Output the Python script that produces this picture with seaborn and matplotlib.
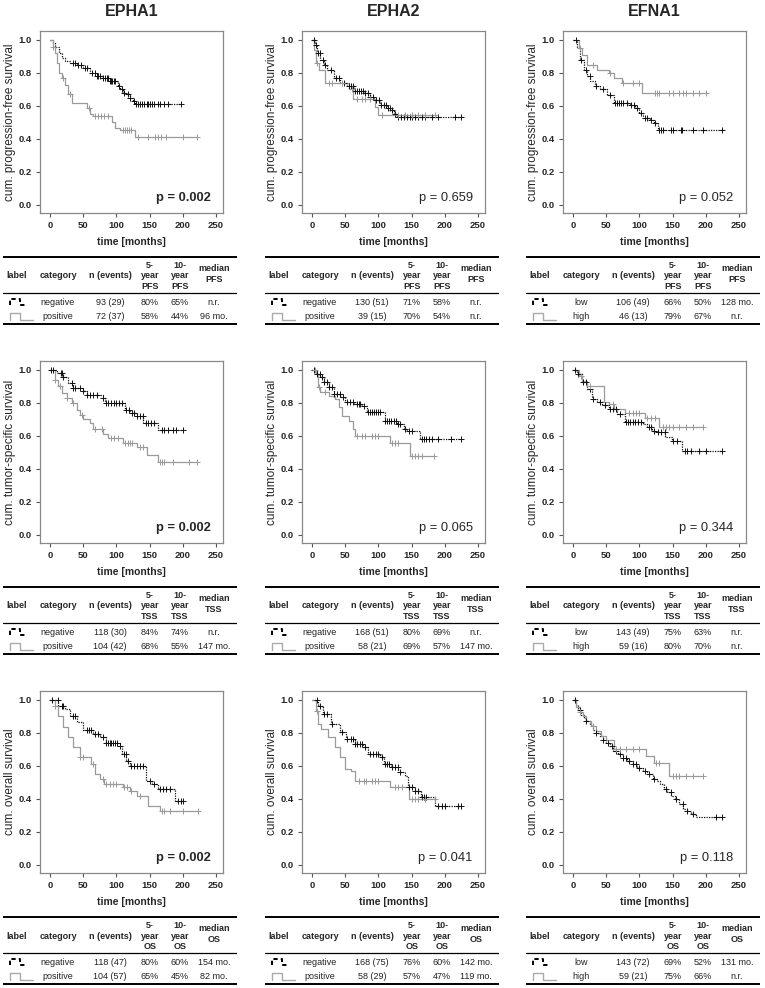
import numpy as np
import pandas as pd
import matplotlib
matplotlib.use('Agg')
import matplotlib.pyplot as plt
import seaborn as sns

sns.set_style('ticks')
plt.rcParams['font.family'] = ['Liberation Sans', 'DejaVu Sans']

genes = ['EPHA1', 'EPHA2', 'EFNA1']
endpoints = ['PFS', 'TSS', 'OS']
ylabels = ['cum. progression-free survival', 'cum. tumor-specific survival', 'cum. overall survival']
p_values = [['0.002', '0.659', '0.052'],
            ['0.002', '0.065', '0.344'],
            ['0.002', '0.041', '0.118']]
p_bold = [[True, False, False], [True, False, False], [True, False, False]]
groups = [['negative', 'positive'], ['negative', 'positive'], ['low', 'high']]

# ---- curves: step times, survival after step, censor times (last = end of follow-up)
# PFS
pfs_epha1_neg_t = [0, 4, 8, 14, 18, 22, 30, 40, 50, 60, 70, 80, 90, 103, 106, 110, 115, 120, 125, 128]
pfs_epha1_neg_s = [1.0, .98, .96, .92, .89, .87, .86, .85, .83, .80, .78, .77, .75, .72, .70, .68, .67, .65, .63, .615]
pfs_epha1_neg_c = [35, 38, 42, 46, 52, 56, 63, 67, 70, 73, 76, 80, 83, 86, 88, 90, 92, 94, 96, 98, 104, 109, 112,
                   117, 121, 127, 130, 133, 136, 139, 142, 146, 148, 150, 153, 157, 162, 166, 172, 178, 197]
pfs_epha1_pos_t = [0, 5, 8, 11, 14, 18, 23, 27, 33, 55, 60, 65, 93, 98, 105, 128]
pfs_epha1_pos_s = [1.0, .96, .92, .86, .80, .77, .73, .67, .62, .59, .55, .54, .50, .465, .455, .41]
pfs_epha1_pos_c = [5, 20, 30, 58, 68, 72, 77, 82, 87, 110, 113, 116, 119, 122, 133, 148, 158, 163, 167, 175, 200, 222]

pfs_epha2_neg_t = [0, 5, 7.5, 12.5, 17.6, 22.6, 32.6, 42.7, 52.7, 62.7, 77.8, 87.9, 92.9, 103, 113, 120.5, 123, 128]
pfs_epha2_neg_s = [1.0, .97, .92, .88, .85, .82, .77, .74, .72, .69, .677, .657, .636, .606, .586, .576, .55, .535]
pfs_epha2_neg_c = [3, 6, 9, 12, 16, 20, 28, 36, 40, 48, 55, 58, 62, 65, 68, 71, 74, 77, 80, 84, 88, 92, 97, 101,
                   104, 108, 111, 114, 117, 121, 125, 130, 134, 138, 143, 147, 150, 155, 160, 165, 170, 180, 190,
                   215, 225]
pfs_epha2_pos_t = [0, 3.5, 6.5, 10, 20, 55, 62, 95, 100]
pfs_epha2_pos_s = [1.0, .94, .86, .82, .74, .70, .64, .596, .545]
pfs_epha2_pos_c = [8, 25, 30, 45, 60, 68, 75, 80, 88, 105, 130, 140, 150, 160, 170, 185]

pfs_efna1_neg_t = [0, 6, 11, 16, 21, 26, 33.6, 41, 51, 61, 86, 94, 99, 106, 116.5, 121.5, 127.5]
pfs_efna1_neg_s = [1.0, .955, .88, .82, .78, .75, .72, .70, .667, .62, .606, .586, .556, .53, .515, .495, .455]
pfs_efna1_neg_c = [5, 12, 20, 25, 35, 45, 55, 63, 66, 69, 72, 75, 82, 88, 92, 97, 102, 108, 112, 118, 124, 130,
                   133, 136, 148, 150, 162, 164, 180, 195, 225]
pfs_efna1_pos_t = [0, 8.5, 13.5, 21, 36, 54, 62, 74, 104]
pfs_efna1_pos_s = [1.0, .95, .91, .85, .82, .80, .77, .74, .677]
pfs_efna1_pos_c = [10, 30, 55, 75, 90, 100, 123, 126, 130, 145, 150, 160, 165, 170, 180, 190, 200]

# TSS
tss_epha1_neg_t = [0, 10, 20, 27.6, 35, 50, 55, 80, 83, 113, 120, 130.5, 140.5, 163]
tss_epha1_neg_s = [1.0, .98, .96, .92, .89, .87, .85, .83, .80, .76, .74, .72, .68, .636]
tss_epha1_neg_c = [2, 5, 16, 18, 20, 33, 35, 37, 45, 50, 56, 60, 65, 70, 80, 84, 88, 92, 96, 100, 104, 108, 115,
                   119, 123, 127, 131, 135, 140, 144, 148, 152, 156, 168, 172, 178, 185, 190, 201]
tss_epha1_pos_t = [0, 7.5, 12.5, 17.6, 25, 32.6, 40, 45, 50, 60, 65, 80, 88, 110, 130.5, 145.6, 163]
tss_epha1_pos_s = [1.0, .94, .90, .86, .83, .80, .76, .73, .70, .68, .64, .61, .59, .56, .535, .485, .444]
tss_epha1_pos_c = [8, 15, 25, 35, 48, 68, 78, 92, 97, 102, 113, 117, 120, 124, 135, 140, 165, 168, 172, 185,
                   210, 221]

tss_epha2_neg_t = [0, 7.5, 12.5, 17.6, 25, 32.6, 42.7, 50, 62.7, 75, 82.8, 110, 128, 138, 143, 163]
tss_epha2_neg_s = [1.0, .976, .956, .925, .895, .855, .834, .804, .794, .784, .743, .69, .673, .642, .632, .58]
tss_epha2_neg_c = [3, 8, 12, 15, 18, 22, 26, 30, 33, 38, 42, 46, 52, 57, 62, 67, 70, 73, 78, 85, 88, 91, 94, 97,
                   100, 103, 110, 113, 116, 119, 123, 126, 130, 133, 140, 146, 150, 165, 168, 172, 176, 180, 190,
                   210, 225]
tss_epha2_pos_t = [0, 6.5, 8.5, 12.5, 25, 35, 40, 45, 55, 62, 65, 118, 147]
tss_epha2_pos_s = [1.0, .976, .895, .865, .845, .824, .774, .723, .693, .642, .602, .56, .48]
tss_epha2_pos_c = [5, 10, 20, 67, 75, 80, 90, 95, 100, 120, 125, 130, 150, 155, 160, 165, 183]

tss_efna1_neg_t = [0, 6, 13.5, 21, 28.6, 36, 43.7, 53.7, 66, 79, 106, 111, 119, 126.5, 139, 149, 164]
tss_efna1_neg_s = [1.0, .976, .925, .885, .824, .804, .788, .764, .733, .687, .673, .653, .632, .622, .592, .572, .511]
tss_efna1_neg_c = [3, 8, 15, 20, 25, 30, 40, 48, 55, 60, 64, 70, 80, 83, 86, 90, 94, 98, 102, 115, 118, 122, 128,
                   133, 138, 150, 156, 168, 172, 178, 190, 200, 225]
tss_efna1_pos_t = [0, 8.5, 13.5, 21, 46, 54, 61, 79, 109, 129]
tss_efna1_pos_s = [1.0, .966, .935, .905, .804, .794, .764, .737, .709, .657]
tss_efna1_pos_c = [12, 25, 60, 85, 90, 95, 100, 112, 118, 124, 135, 140, 145, 150, 160, 170, 180, 195]

# OS
os_epha1_neg_t = [0, 12.5, 22.6, 30, 40, 50, 65, 75, 85, 105, 108, 115, 120, 145, 154, 162, 188]
os_epha1_neg_s = [1.0, .966, .945, .905, .865, .818, .794, .774, .74, .72, .673, .632, .60, .511, .49, .46, .39]
os_epha1_neg_c = [3, 12, 18, 20, 35, 38, 55, 58, 62, 68, 72, 80, 85, 88, 90, 92, 95, 98, 101, 106, 111, 114, 117,
                  122, 126, 131, 135, 140, 150, 156, 165, 170, 175, 180, 193, 197, 201]
os_epha1_pos_t = [0, 7.5, 12.5, 20, 27.6, 35, 45, 62, 68, 76, 82, 110, 120, 130.5, 148, 165.6]
os_epha1_pos_s = [1.0, .966, .905, .834, .774, .713, .653, .612, .552, .521, .49, .47, .45, .42, .36, .325]
os_epha1_pos_c = [8, 45, 50, 64, 80, 85, 90, 95, 100, 112, 116, 122, 135, 168, 172, 180, 200, 223]

os_epha2_neg_t = [0, 9, 16.6, 29, 41.7, 51.7, 64, 77, 84, 102, 109, 119.5, 129.5, 139.5, 144.6, 154.6, 164.7, 184.7]
os_epha2_neg_s = [1.0, .966, .915, .855, .804, .764, .733, .713, .673, .653, .612, .592, .562, .541, .47, .45, .41, .36]
os_epha2_neg_c = [8, 12, 18, 22, 30, 45, 52, 58, 62, 65, 68, 72, 75, 80, 88, 92, 96, 100, 106, 110, 113, 116, 120,
                  125, 129, 133, 146, 150, 155, 160, 165, 168, 172, 190, 195, 200, 220, 225]
os_epha2_pos_t = [0, 6.5, 9, 14, 24, 34, 41.7, 49, 59, 64, 117, 145.6]
os_epha2_pos_s = [1.0, .935, .855, .824, .774, .713, .653, .582, .57, .511, .47, .40]
os_epha2_pos_c = [8, 70, 78, 82, 90, 95, 100, 125, 130, 135, 150, 155, 160, 170, 185]

os_efna1_neg_t = [0, 4, 8, 12, 16, 20, 25, 30, 35, 40, 45, 50, 55, 60, 68, 75, 82, 90, 97, 105, 112, 120, 126,
                  131, 137, 142, 148, 153, 160, 166, 172, 178, 185]
os_efna1_neg_s = [1.0, .97, .94, .91, .89, .87, .85, .82, .80, .78, .76, .74, .72, .69, .67, .65, .63, .61, .59,
                  .57, .55, .52, .51, .49, .46, .44, .42, .40, .37, .34, .33, .31, .29]
os_efna1_neg_c = [3, 10, 20, 35, 45, 52, 58, 65, 70, 75, 80, 85, 90, 95, 100, 108, 115, 122, 140, 147, 155, 165,
                  172, 180, 215, 225]
os_efna1_pos_t = [0, 5, 10, 15, 20, 27, 35, 42, 50, 62, 110, 122, 145]
os_efna1_pos_s = [1.0, .96, .93, .90, .87, .84, .81, .78, .76, .70, .66, .62, .54]
os_efna1_pos_c = [10, 30, 65, 70, 80, 90, 100, 125, 130, 150, 155, 160, 170, 180, 195]

curves = {
    ('PFS', 'EPHA1'): [(pfs_epha1_neg_t, pfs_epha1_neg_s, pfs_epha1_neg_c), (pfs_epha1_pos_t, pfs_epha1_pos_s, pfs_epha1_pos_c)],
    ('PFS', 'EPHA2'): [(pfs_epha2_neg_t, pfs_epha2_neg_s, pfs_epha2_neg_c), (pfs_epha2_pos_t, pfs_epha2_pos_s, pfs_epha2_pos_c)],
    ('PFS', 'EFNA1'): [(pfs_efna1_neg_t, pfs_efna1_neg_s, pfs_efna1_neg_c), (pfs_efna1_pos_t, pfs_efna1_pos_s, pfs_efna1_pos_c)],
    ('TSS', 'EPHA1'): [(tss_epha1_neg_t, tss_epha1_neg_s, tss_epha1_neg_c), (tss_epha1_pos_t, tss_epha1_pos_s, tss_epha1_pos_c)],
    ('TSS', 'EPHA2'): [(tss_epha2_neg_t, tss_epha2_neg_s, tss_epha2_neg_c), (tss_epha2_pos_t, tss_epha2_pos_s, tss_epha2_pos_c)],
    ('TSS', 'EFNA1'): [(tss_efna1_neg_t, tss_efna1_neg_s, tss_efna1_neg_c), (tss_efna1_pos_t, tss_efna1_pos_s, tss_efna1_pos_c)],
    ('OS', 'EPHA1'): [(os_epha1_neg_t, os_epha1_neg_s, os_epha1_neg_c), (os_epha1_pos_t, os_epha1_pos_s, os_epha1_pos_c)],
    ('OS', 'EPHA2'): [(os_epha2_neg_t, os_epha2_neg_s, os_epha2_neg_c), (os_epha2_pos_t, os_epha2_pos_s, os_epha2_pos_c)],
    ('OS', 'EFNA1'): [(os_efna1_neg_t, os_efna1_neg_s, os_efna1_neg_c), (os_efna1_pos_t, os_efna1_pos_s, os_efna1_pos_c)],
}

# ---- table values: rows = endpoint, cols = gene, [group1, group2]
n_events = [[['93 (29)', '72 (37)'], ['130 (51)', '39 (15)'], ['106 (49)', '46 (13)']],
            [['118 (30)', '104 (42)'], ['168 (51)', '58 (21)'], ['143 (49)', '59 (16)']],
            [['118 (47)', '104 (57)'], ['168 (75)', '58 (29)'], ['143 (72)', '59 (21)']]]
five_year = [[['80%', '58%'], ['71%', '70%'], ['66%', '79%']],
             [['84%', '68%'], ['80%', '69%'], ['75%', '80%']],
             [['80%', '65%'], ['76%', '57%'], ['69%', '75%']]]
ten_year = [[['65%', '44%'], ['58%', '54%'], ['50%', '67%']],
            [['74%', '55%'], ['69%', '57%'], ['63%', '70%']],
            [['60%', '45%'], ['60%', '47%'], ['52%', '66%']]]
median = [[['n.r.', '96 mo.'], ['n.r.', 'n.r.'], ['128 mo.', 'n.r.']],
          [['n.r.', '147 mo.'], ['n.r.', '147 mo.'], ['n.r.', 'n.r.']],
          [['154 mo.', '82 mo.'], ['142 mo.', '119 mo.'], ['131 mo.', 'n.r.']]]

W, H = 765, 988
fig = plt.figure(figsize=(W / 100, H / 100), dpi=100)


def rect(x0, y0, w, h):
    return [x0 / W, 1 - (y0 + h) / H, w / W, h / H]


col_off = [0, 262, 523]
row_off = [0, 330, 660]
styles = [dict(color='#111111', lw=0.9, ls=(0, (1, 1))), dict(color='#9a9a9a', lw=0.9, ls='-')]
txt = '#222222'

for r, ep in enumerate(endpoints):
    for c, gene in enumerate(genes):
        co, ro = col_off[c], row_off[r]
        ax = fig.add_axes(rect(40 + co, 31 + ro, 183, 182))
        for k, (t, s, cens) in enumerate(curves[(ep, gene)]):
            st = styles[k]
            df = pd.DataFrame({'time': t + [cens[-1]], 'surv': s + [s[-1]]})
            sns.lineplot(data=df, x='time', y='surv', drawstyle='steps-post', estimator=None, sort=False,
                         color=st['color'], lw=st['lw'], linestyle=st['ls'], ax=ax)
            idx = np.searchsorted(np.array(t), np.array(cens), side='right') - 1
            sns.scatterplot(x=cens, y=np.array(s)[idx], marker='+', s=14, color=st['color'],
                            linewidth=0.7, ax=ax, zorder=3)
        ax.set_xlim(-15.1, 260.5)
        ax.set_ylim(-0.0485, 1.0545)
        ax.set_xticks(range(0, 251, 50))
        ax.set_yticks([0, .2, .4, .6, .8, 1.0])
        ax.set_yticklabels(['0.0', '0.2', '0.4', '0.6', '0.8', '1.0'])
        ax.tick_params(labelsize=6.8, length=3, width=0.8, color='#555555', pad=3)
        for lab in ax.get_xticklabels() + ax.get_yticklabels():
            lab.set_fontweight('bold')
        for sp in ax.spines.values():
            sp.set_visible(True)
            sp.set_color('#888888')
            sp.set_linewidth(0.9)
        ax.set_xlabel('time [months]', fontsize=7.5, fontweight='bold', labelpad=5)
        ax.set_ylabel(ylabels[r], fontsize=8.5, labelpad=2)
        ax.text(242, 0.04, 'p = ' + p_values[r][c], ha='right', va='center', fontsize=9.3,
                fontweight='bold' if p_bold[r][c] else 'normal')
        if r == 0:
            fig.text((131.5 + co) / W, 1 - 12 / H, gene, ha='center', va='center', fontsize=11.5,
                     fontweight='bold')

        # ---- summary table
        tb = fig.add_axes(rect(3 + co, 256 + ro, 234, 69))
        tb.set_xlim(0, 234)
        tb.set_ylim(69, 0)
        tb.axis('off')
        tb.plot([0, 234], [1, 1], color='black', lw=1.4)
        tb.plot([0, 234], [37, 37], color='black', lw=0.9)
        tb.plot([0, 234], [68, 68], color='black', lw=1.4)
        hk = dict(ha='center', va='center', fontsize=6.5, fontweight='bold', linespacing=1.15)
        tb.text(14, 20, 'label', **hk)
        tb.text(55, 20, 'category', **hk)
        tb.text(107, 20, 'n (events)', **hk)
        tb.text(147, 20, '5-\nyear\n' + ep, **hk)
        tb.text(177, 20, '10-\nyear\n' + ep, **hk)
        tb.text(211, 18, 'median\n' + ep, **hk)
        bk = dict(ha='center', va='center', fontsize=6.5, color=txt)
        for k, yy in enumerate([46, 60]):
            if k == 0:
                tb.plot([7, 7, 17, 17, 24], [yy + 3, yy - 3, yy - 3, yy + 3, yy + 3], color='black', lw=1.4,
                        ls=(0, (2.2, 1.6)))
            else:
                tb.plot([7, 7, 17, 17, 30], [yy + 4, yy - 3, yy - 3, yy + 4, yy + 4], color='#aaaaaa', lw=1.0)
            tb.text(55, yy, groups[c][k], **bk)
            tb.text(107, yy, n_events[r][c][k], **bk)
            tb.text(147, yy, five_year[r][c][k], **bk)
            tb.text(177, yy, ten_year[r][c][k], **bk)
            tb.text(211, yy, median[r][c][k], **bk)

fig.savefig('out.png', dpi=100)
